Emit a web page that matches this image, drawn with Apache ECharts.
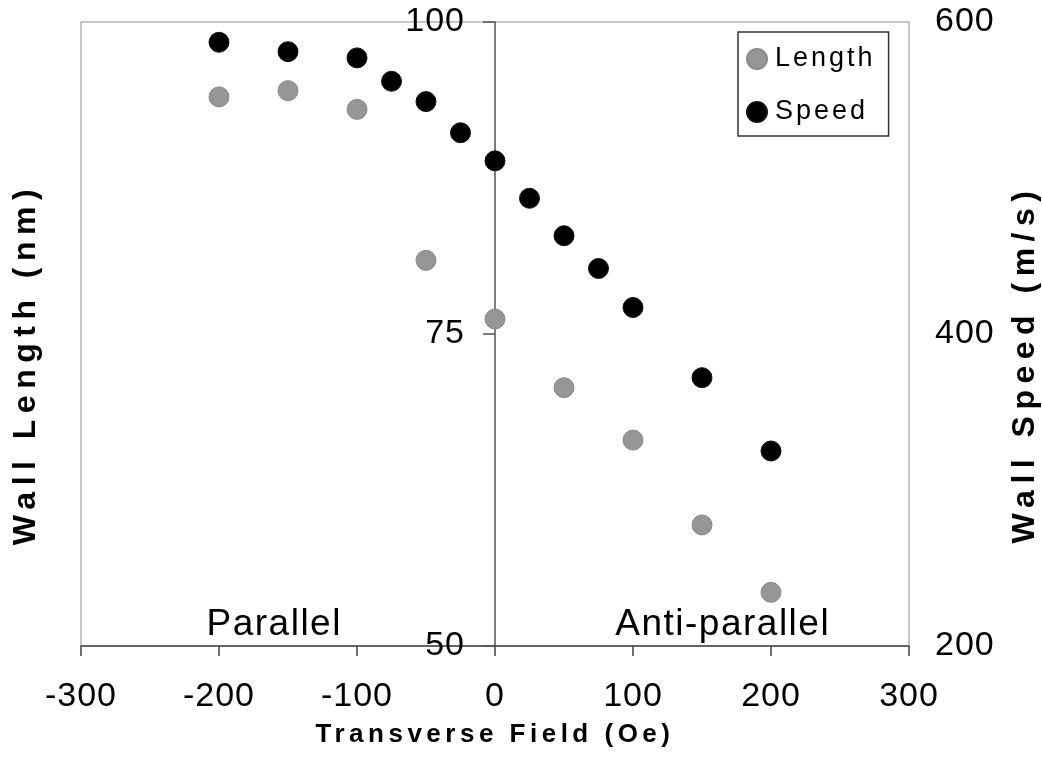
<!DOCTYPE html>
<html>
<head>
<meta charset="utf-8">
<script src="https://cdn.jsdelivr.net/npm/echarts@6/dist/echarts.min.js"></script>
<style>
html,body{margin:0;padding:0;background:#fff;}
#chart{width:1042px;height:759px;}
</style>
</head>
<body>
<div id="chart"></div>
<script>
// ---- data ----
const fieldSpeed = [-200, -150, -100, -75, -50, -25, 0, 25, 50, 75, 100, 150, 200];
const speedValues = [587, 581, 577, 562, 549, 529, 511, 487, 463, 442, 417, 372, 325];
const fieldLength = [-200, -150, -100, -50, 0, 50, 100, 150, 200];
const lengthValues = [94.0, 94.5, 93.0, 80.9, 76.2, 70.7, 66.5, 59.7, 54.3];
const annotationText = ['Parallel', 'Anti-parallel'];
const annotationX = [-160, 165];
const annotationY = [51.7, 51.7];
const seriesNames = ['Length', 'Speed'];
const xTitle = 'Transverse Field (Oe)';
const yLeftTitle = 'Wall Length (nm)';
const yRightTitle = 'Wall Speed (m/s)';

// letter spacing per font (the reference text is spaced out)
const SPACING = { b26: 4.5, b32: 6.5, n27: 3, n37: 1.5, n34: 1 };
(function () {
  const proto = CanvasRenderingContext2D.prototype;
  const d = Object.getOwnPropertyDescriptor(proto, 'font');
  if (!d || !('letterSpacing' in proto)) return;
  Object.defineProperty(proto, 'font', {
    configurable: true,
    enumerable: d.enumerable,
    get() { return d.get.call(this); },
    set(v) {
      d.set.call(this, v);
      const m = /(bold\s+)?(\d+(?:\.\d+)?)px/.exec(v);
      let s = 0;
      if (m) { s = SPACING[(m[1] ? 'b' : 'n') + Math.round(+m[2])] || 0; }
      this.letterSpacing = s + 'px';
    }
  });
})();

const FONT = 'Liberation Sans, Arial, sans-serif';
const chart = echarts.init(document.getElementById('chart'), null, { renderer: 'canvas' });

const option = {
  animation: false,
  backgroundColor: '#fff',
  grid: {
    left: 81, right: 133, top: 22, bottom: 113,
    outerBoundsMode: 'none', containLabel: false,
    show: true, borderColor: '#8c8c8c', borderWidth: 1, backgroundColor: 'transparent'
  },
  legend: {
    data: seriesNames,
    orient: 'vertical',
    left: 738, top: 32,
    padding: [12, 13, 9, 8],
    itemWidth: 26, itemHeight: 20, itemGap: 23,
    borderColor: '#333', borderWidth: 1.5, backgroundColor: '#fff',
    textStyle: { fontFamily: FONT, fontSize: 27, color: '#000' }
  },
  xAxis: {
    type: 'value', min: -300, max: 300, interval: 100,
    name: xTitle, nameLocation: 'middle', nameGap: 74,
    nameTextStyle: { fontFamily: FONT, fontSize: 26, fontWeight: 'bold', color: '#000' },
    axisLine: { onZero: false, lineStyle: { color: '#444', width: 1.5 } },
    axisTick: { show: true, length: 10, lineStyle: { color: '#444', width: 1.5 } },
    axisLabel: { fontFamily: FONT, fontSize: 34, color: '#000', margin: 33, showMinLabel: true, showMaxLabel: true, hideOverlap: false },
    splitLine: { show: false }
  },
  yAxis: [
    {
      type: 'value', min: 50, max: 100, interval: 25, position: 'left',
      offset: -414,
      name: yLeftTitle, nameLocation: 'middle', nameGap: 450, nameRotate: 90,
      nameTextStyle: { fontFamily: FONT, fontSize: 32, fontWeight: 'bold', color: '#000', padding: [0, 60, 0, 0] },
      axisLine: { show: true, onZero: false, lineStyle: { color: '#555', width: 1.5 } },
      axisTick: { show: true, length: 12, lineStyle: { color: '#555', width: 1.5 } },
      axisLabel: { fontFamily: FONT, fontSize: 34, color: '#000', margin: 30, showMinLabel: true, showMaxLabel: true },
      splitLine: { show: false }
    },
    {
      type: 'value', min: 200, max: 600, interval: 200, position: 'right',
      name: yRightTitle, nameLocation: 'middle', nameGap: 90, nameRotate: 90,
      nameTextStyle: { fontFamily: FONT, fontSize: 32, fontWeight: 'bold', color: '#000', padding: [0, 60, 0, 0] },
      axisLine: { show: false, onZero: false },
      axisTick: { show: false },
      axisLabel: { fontFamily: FONT, fontSize: 34, color: '#000', margin: 26, showMinLabel: true, showMaxLabel: true },
      splitLine: { show: false }
    }
  ],
  series: [
    {
      name: seriesNames[0], type: 'scatter', yAxisIndex: 0,
      symbol: 'circle', symbolSize: 20,
      itemStyle: { color: '#969696', borderColor: '#8a8a8a', borderWidth: 1, opacity: 1 },
      data: fieldLength.map((x, i) => [x, lengthValues[i]]),
      z: 3
    },
    {
      name: seriesNames[1], type: 'scatter', yAxisIndex: 1,
      symbol: 'circle', symbolSize: 20,
      itemStyle: { color: '#000', borderColor: '#111', borderWidth: 1, opacity: 1 },
      data: fieldSpeed.map((x, i) => [x, speedValues[i]]),
      z: 4
    },
    {
      name: 'annotations', type: 'scatter', yAxisIndex: 0,
      symbolSize: 0, silent: true,
      itemStyle: { color: '#000', opacity: 1 },
      label: {
        show: true, position: 'inside',
        fontFamily: FONT, fontSize: 37, color: '#000',
        textBorderWidth: 0, textBorderColor: 'transparent',
        formatter: p => p.data[2]
      },
      data: annotationX.map((x, i) => [x, annotationY[i], annotationText[i]]),
      z: 2
    }
  ]
};
chart.setOption(option);
</script>
</body>
</html>
